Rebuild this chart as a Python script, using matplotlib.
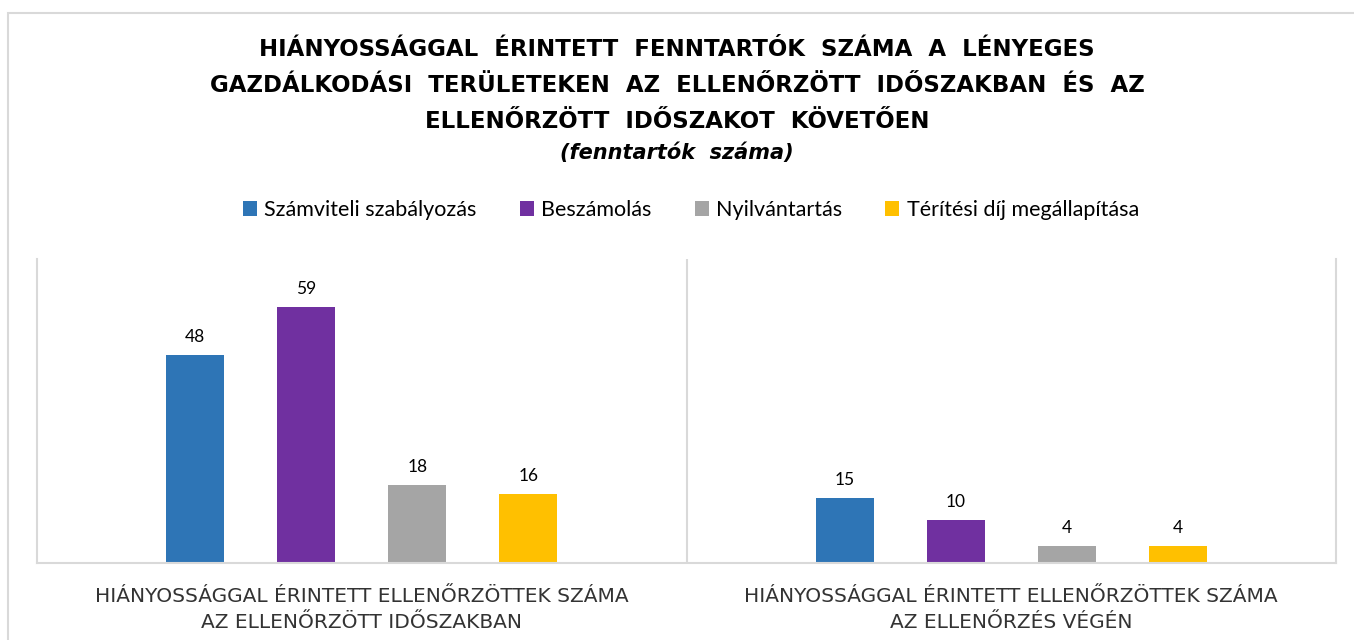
import matplotlib.pyplot as plt
import numpy as np
from matplotlib.patches import Rectangle

plt.rcParams['font.family'] = ['Lato', 'DejaVu Sans']

categories = ['HIÁNYOSSÁGGAL ÉRINTETT ELLENŐRZÖTTEK SZÁMA\nAZ ELLENŐRZÖTT IDŐSZAKBAN',
              'HIÁNYOSSÁGGAL ÉRINTETT ELLENŐRZÖTTEK SZÁMA\nAZ ELLENŐRZÉS VÉGÉN']
series = ['Számviteli szabályozás', 'Beszámolás', 'Nyilvántartás', 'Térítési díj megállapítása']
values = [[48, 15], [59, 10], [18, 4], [16, 4]]
colors = ['#2E75B6', '#7030A0', '#A5A5A5', '#FFC000']

title_lines = ['HIÁNYOSSÁGGAL  ÉRINTETT  FENNTARTÓK  SZÁMA  A  LÉNYEGES',
               'GAZDÁLKODÁSI  TERÜLETEKEN  AZ  ELLENŐRZÖTT  IDŐSZAKBAN  ÉS  AZ',
               'ELLENŐRZÖTT  IDŐSZAKOT  KÖVETŐEN']
subtitle = '(fenntartók  száma)'

wide = ['DejaVu Sans']

fig = plt.figure(figsize=(13.54, 6.4), dpi=100)
fig.patches.append(Rectangle((8 / 1354, -0.1), 1.2, 1 - 13 / 640 + 0.1,
                             transform=fig.transFigure, fill=False,
                             edgecolor='#D9D9D9', linewidth=1.5))

ax = fig.add_axes([37 / 1354, 1 - 563 / 640, (1336 - 37) / 1354, (563 - 259) / 640])
x = np.arange(len(categories))
step = 0.171
width = 0.089
for i, (name, vals, c) in enumerate(zip(series, values, colors)):
    pos = x + (i - 1.5) * step
    bars = ax.bar(pos, vals, width, color=c, label=name, zorder=2)
    for b, v in zip(bars, vals):
        ax.text(b.get_x() + b.get_width() / 2, v + 2.2, str(v), ha='center', va='bottom',
                fontsize=12.5, color='#000000')

ax.set_xlim(-0.5, 1.5)
ax.set_ylim(0, 70)
ax.set_yticks([])
ax.set_xticks(x)
ax.set_xticklabels(categories, fontsize=14.5, color='#333333', linespacing=1.5,
                   family=wide)
ax.tick_params(axis='x', length=0, pad=17)
ax.axvline(0.5, color='#D9D9D9', linewidth=1.5, zorder=1)
for s in ax.spines.values():
    s.set_color('#D9D9D9')
    s.set_linewidth(1.5)
ax.spines['top'].set_visible(False)

for line, ypx in zip(title_lines, [50, 86, 121]):
    fig.text(0.5, 1 - ypx / 640, line, ha='center', va='center', fontsize=16.5,
             fontweight='bold', color='#000000', family=wide)
fig.text(0.5, 1 - 153 / 640, subtitle, ha='center', va='center', fontsize=15,
         fontweight='bold', style='italic', color='#000000', family=wide)

fig.legend(loc='center', bbox_to_anchor=(0.5 + 14 / 1354, 1 - 210 / 640), ncol=4,
           frameon=False, fontsize=15.5, handlelength=0.65, handleheight=0.65,
           handletextpad=0.35, columnspacing=2.0)

fig.savefig('out.png', dpi=100)
